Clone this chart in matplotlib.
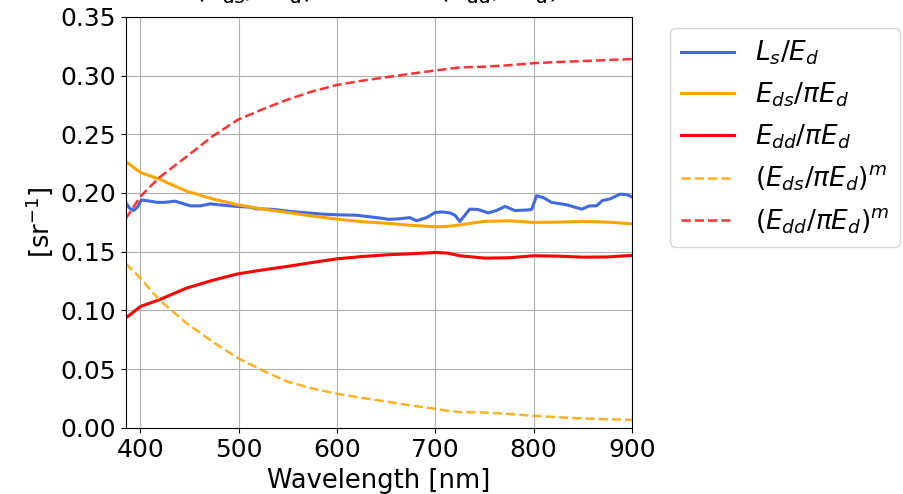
import matplotlib.pyplot as plt

plt.rcParams['font.size'] = 18

# === DATA ===
wl_ls = [385, 389, 393, 397, 401, 410, 417, 425, 435, 443, 451, 461, 471, 485, 498,
         510, 518, 535, 552, 570, 585, 600, 620, 644, 653, 664, 674, 681, 691, 700,
         707, 715, 720, 725, 730, 735, 743, 754, 762, 771, 781, 794, 798, 803, 810,
         818, 833, 849, 857, 864, 870, 878, 888, 895, 900]
ls_ed = [0.192, 0.187, 0.185, 0.188, 0.194, 0.193, 0.192, 0.192, 0.193, 0.191, 0.189, 0.189, 0.1907, 0.1895, 0.1885,
         0.188, 0.1865, 0.186, 0.1843, 0.183, 0.182, 0.1814, 0.181, 0.1786, 0.1775, 0.178, 0.179, 0.1763, 0.179, 0.1834,
         0.1838, 0.183, 0.181, 0.1757, 0.181, 0.1862, 0.186, 0.183, 0.185, 0.1885, 0.185, 0.1855, 0.186, 0.1976, 0.196,
         0.192, 0.190, 0.1862, 0.189, 0.189, 0.1935, 0.195, 0.199, 0.1985, 0.1966]

wl = [385, 400, 419, 447, 473, 499, 525, 549, 575, 600, 625, 650, 675, 700, 712,
      725, 750, 775, 800, 825, 850, 875, 900]
eds_ped = [0.2268, 0.2174, 0.2118, 0.2015, 0.195, 0.1899, 0.1862, 0.1834, 0.1803, 0.1777, 0.1755, 0.1742, 0.1725, 0.1712, 0.1715,
           0.1728, 0.1758, 0.1763, 0.1749, 0.1752, 0.1757, 0.1752, 0.1737]
edd_ped = [0.0934, 0.1033, 0.109, 0.119, 0.1255, 0.1311, 0.1345, 0.1374, 0.1408, 0.1439, 0.1458, 0.1473, 0.1482, 0.1493, 0.1488,
           0.1465, 0.1445, 0.1448, 0.1465, 0.1462, 0.1453, 0.1455, 0.1468]
eds_ped_m = [0.140, 0.1275, 0.109, 0.089, 0.0735, 0.0594, 0.0485, 0.0394, 0.0335, 0.029, 0.0255, 0.0224, 0.019, 0.0162, 0.0145,
             0.0134, 0.013, 0.0118, 0.0102, 0.009, 0.008, 0.0073, 0.0068]
edd_ped_m = [0.178, 0.197, 0.213, 0.231, 0.248, 0.2623, 0.2715, 0.2793, 0.2865, 0.292, 0.2955, 0.2985, 0.3015, 0.3043, 0.3055,
             0.3069, 0.3075, 0.3088, 0.3105, 0.3115, 0.3123, 0.3132, 0.314]

fig = plt.figure(figsize=(9.04, 4.94), dpi=100)
ax = fig.add_axes([0.139, 0.134, 0.560, 0.832])

ax.plot(wl_ls, ls_ed, color='royalblue', lw=2.2, label=r'$L_s/E_d$')
ax.plot(wl, eds_ped, color='orange', lw=2.2, label=r'$E_{ds}/\pi E_d$')
ax.plot(wl, edd_ped, color='red', lw=2.2, label=r'$E_{dd}/\pi E_d$')
ax.plot(wl, eds_ped_m, color='orange', ls='--', lw=1.8, alpha=0.85, label=r'$(E_{ds}/\pi E_d)^m$')
ax.plot(wl, edd_ped_m, color='red', ls='--', lw=1.8, alpha=0.8, label=r'$(E_{dd}/\pi E_d)^m$')

ax.set_xlim(385, 900)
ax.set_ylim(0, 0.35)
ax.set_xticks([400, 500, 600, 700, 800, 900])
ax.set_xlabel('Wavelength [nm]', fontsize=18.5, labelpad=5)
ax.set_ylabel(r'[sr$^{-1}$]', fontsize=18.5)
ax.grid(True)

# title sits above the image edge; only its bottom is visible
ax.set_title(r'$(E_{ds}/\pi E_d)^m$   and   $(E_{dd}/\pi E_d)^m$', fontsize=20, pad=13, x=0.515)

ax.legend(loc='upper left', bbox_to_anchor=(1.05, 1.004), fontsize=19)

plt.savefig('out.png', dpi=100)
